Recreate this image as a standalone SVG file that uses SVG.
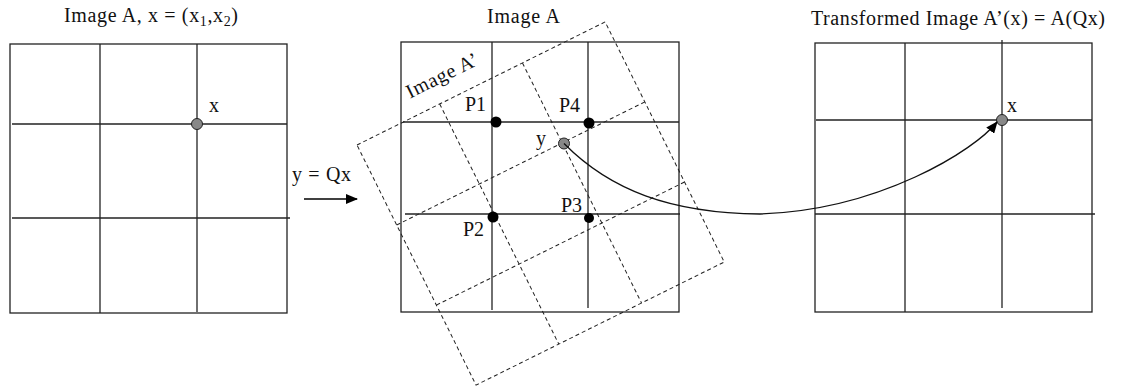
<svg xmlns="http://www.w3.org/2000/svg" width="1121" height="390" viewBox="0 0 1121 390">
<style>
.t{font-family:"Liberation Serif","Times New Roman",serif;font-size:20px;fill:#111}
.g{stroke:#222;stroke-width:1.3;fill:none}
.d{stroke:#222;stroke-width:1;stroke-dasharray:4 3;fill:none}
.bd{fill:#000}
.gd{fill:#888;stroke:#222;stroke-width:1}
</style>
<defs>
<marker id="ah" markerWidth="12" markerHeight="10" refX="11" refY="5" orient="auto" markerUnits="userSpaceOnUse">
<path d="M0,0 L12,5 L0,10 Z" fill="#000"/>
</marker>
</defs>
<rect width="1121" height="390" fill="#fff"/>

<g id="panel-left">
<text class="t" x="64" y="22" textLength="174">Image A, x = (x<tspan font-size="14" dy="4">1</tspan><tspan dy="-4">,x</tspan><tspan font-size="14" dy="4">2</tspan><tspan dy="-4">)</tspan></text>
<rect class="g" x="10" y="44" width="277" height="269"/>
<line class="g" x1="100" y1="44" x2="100" y2="313"/>
<line class="g" x1="197" y1="44" x2="197" y2="312"/>
<line class="g" x1="12" y1="124" x2="287" y2="124"/>
<line class="g" x1="12" y1="218" x2="290" y2="218"/>
<circle class="gd" cx="197" cy="124" r="5.5"/>
<text class="t" x="209" y="112">x</text>
</g>

<g id="panel-middle">
<text class="t" x="487" y="23" textLength="73">Image A</text>
<rect class="g" x="401" y="42" width="278" height="270"/>
<line class="g" x1="492" y1="42" x2="492" y2="310"/>
<line class="g" x1="588" y1="42" x2="588" y2="308"/>
<line class="g" x1="403" y1="122" x2="679" y2="122"/>
<line class="g" x1="405" y1="214" x2="680" y2="214"/>
</g>

<g id="image-a-prime" transform="translate(357,145) rotate(-26.38)">
<rect class="d" x="0" y="0" width="277" height="268"/>
<line class="d" x1="92.3" y1="0" x2="92.3" y2="268"/>
<line class="d" x1="184.7" y1="0" x2="184.7" y2="268"/>
<line class="d" x1="0" y1="89.3" x2="277" y2="89.3"/>
<line class="d" x1="0" y1="178.7" x2="277" y2="178.7"/>
<text class="t" x="68" y="-18" textLength="78">Image A’</text>
</g>

<g id="points">
<circle class="bd" cx="496" cy="122" r="5.5"/>
<circle class="bd" cx="589" cy="123" r="5.5"/>
<circle class="bd" cx="493" cy="217" r="5.5"/>
<circle class="bd" cx="589" cy="218" r="5"/>
<text class="t" x="465" y="111">P1</text>
<text class="t" x="559" y="112">P4</text>
<text class="t" x="561" y="212">P3</text>
<text class="t" x="463" y="236">P2</text>
<circle class="gd" cx="564" cy="143.5" r="5.5"/>
<text class="t" x="536" y="145">y</text>
</g>

<g id="panel-right">
<text class="t" x="811" y="25" textLength="294">Transformed Image A’(x) = A(Qx)</text>
<rect class="g" x="815" y="43" width="277" height="269"/>
<line class="g" x1="905" y1="43" x2="905" y2="312"/>
<line class="g" x1="1002" y1="40" x2="1002" y2="308"/>
<line class="g" x1="816" y1="120" x2="1092" y2="120"/>
<line class="g" x1="815" y1="214" x2="1095" y2="214"/>
<circle class="gd" cx="1002" cy="120" r="5.5"/>
<text class="t" x="1007" y="112">x</text>
</g>

<g id="connectors">
<text class="t" x="292" y="181" textLength="59">y = Qx</text>
<line x1="304" y1="199" x2="357" y2="199" stroke="#000" stroke-width="1.3" marker-end="url(#ah)"/>
<path d="M564,143.5 C610,190 670,213 760,214 C880,210 975,150 997,122" fill="none" stroke="#111" stroke-width="1.3" marker-end="url(#ah)"/>
</g>
</svg>
